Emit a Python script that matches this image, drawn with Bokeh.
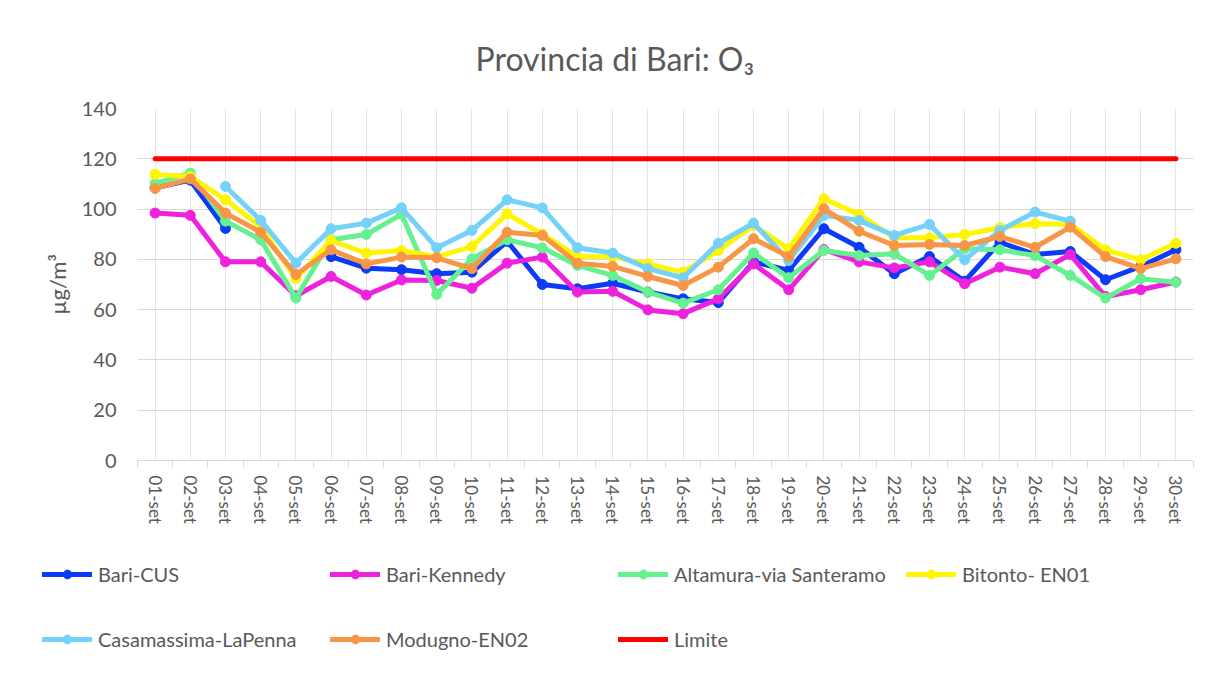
import math
from bokeh.plotting import figure
from bokeh.models import (Range1d, FixedTicker, SingleIntervalTicker, LinearAxis,
                          CategoricalAxis, Legend, LegendItem, CustomJSTickFormatter)
from bokeh.embed import file_html
from bokeh.resources import INLINE

nan = float("nan")

days = ["01-set", "02-set", "03-set", "04-set", "05-set", "06-set", "07-set", "08-set",
        "09-set", "10-set", "11-set", "12-set", "13-set", "14-set", "15-set", "16-set",
        "17-set", "18-set", "19-set", "20-set", "21-set", "22-set", "23-set", "24-set",
        "25-set", "26-set", "27-set", "28-set", "29-set", "30-set"]

bari_cus = [108.5, 111.5, 92.3, nan, nan, 81.1, 76.5, 75.9, 74.3, 74.9,
            87.2, 70.0, 68.3, 70.5, 67.0, 64.3, 62.8, 79.0, 75.6, 92.2,
            84.8, 74.3, 81.1, 71.3, 86.8, 81.9, 83.1, 71.9, 77.2, 83.8]
bari_kennedy = [98.4, 97.5, 79.0, 79.0, 65.5, 73.2, 65.8, 71.8, 71.6, 68.5,
                78.5, 80.9, 67.0, 67.3, 59.9, 58.4, 64.3, 78.2, 67.9, 83.9,
                79.0, 76.6, 79.0, 70.3, 76.9, 74.3, 81.9, 65.2, 67.9, 71.0]
altamura = [110.2, 114.3, 95.2, 87.8, 64.6, 87.8, 89.9, 97.9, 66.0, 80.2,
            87.8, 84.6, 77.6, 73.6, 67.0, 62.6, 67.9, 82.5, 72.7, 83.5,
            81.5, 82.2, 73.6, 84.2, 83.8, 81.5, 73.6, 64.6, 72.3, 70.9]
bitonto = [113.8, 113.0, 103.7, 93.0, 72.3, 87.5, 82.5, 83.5, 81.0, 85.1,
           98.1, 90.0, 81.1, 81.0, 78.2, 74.9, 83.5, 93.5, 84.2, 104.1,
           97.9, 88.6, 88.6, 89.9, 92.6, 94.2, 94.0, 83.8, 79.8, 86.4]
casamassima = [nan, nan, 109.0, 95.5, 78.5, 92.2, 94.4, 100.5, 84.6, 91.5,
               103.7, 100.5, 84.6, 82.5, 76.3, 72.7, 86.4, 94.4, 79.5, 97.5,
               95.5, 89.5, 93.9, 79.8, 91.5, 98.8, 95.2, nan, nan, nan]
modugno = [108.2, 112.0, 98.4, 90.8, 74.0, 83.8, 78.2, 80.9, 80.6, 76.3,
           90.8, 89.5, 78.5, 77.2, 73.2, 69.6, 76.9, 88.2, 81.1, 100.1,
           91.2, 85.5, 85.9, 85.5, 89.1, 84.8, 92.8, 81.1, 76.3, 80.2]
limite = [120, 120, 120, 120, 120, 120, 120, 120, 120, 120,
          120, 120, 120, 120, 120, 120, 120, 120, 120, 120,
          120, 120, 120, 120, 120, 120, 120, 120, 120, 120]

series_names = ["Bari-CUS", "Bari-Kennedy", "Altamura-via Santeramo", "Bitonto- EN01",
                "Casamassima-LaPenna", "Modugno-EN02", "Limite"]
series_values = [bari_cus, bari_kennedy, altamura, bitonto, casamassima, modugno, limite]
series_colors = ["#0B3BF6", "#EE22DD", "#66F090", "#FFF500", "#74D2F8", "#F79646", "#FF0000"]
series_markers = [True, True, True, True, True, True, False]

FONT = "Lato"
TXT = "#595959"
GRID = "#d9d9d9"

p = figure(width=1200, height=545, x_range=days, y_range=Range1d(0, 140),
           output_backend="svg", toolbar_location=None, x_axis_location=None,
           min_border_left=137, min_border_right=7, min_border_top=108,
           min_border_bottom=85)
p.outline_line_color = None
p.background_fill_color = "white"
p.border_fill_color = "white"

p.title.text = "Provincia di Bari: O\u2083"
p.title.text_font = FONT
p.title.text_font_size = "32px"
p.title.text_font_style = "normal"
p.title.text_color = TXT
p.title.align = "left"
p.title.offset = 338
p.title.standoff = 62

# y axis
yax = p.yaxis[0]
yax.ticker = SingleIntervalTicker(interval=20)
yax.axis_line_color = None
yax.major_tick_line_color = None
yax.minor_tick_line_color = None
yax.major_tick_out = 0
yax.major_tick_in = 0
yax.major_label_standoff = 17
yax.major_label_text_font = FONT
yax.major_label_text_font_size = "20px"
yax.major_label_text_color = TXT
yax.axis_label = "\u00b5g/m\u00b3"
yax.axis_label_text_font = FONT
yax.axis_label_text_font_size = "22px"
yax.axis_label_text_font_style = "normal"
yax.axis_label_text_color = TXT
yax.axis_label_standoff = 8
p.ygrid.grid_line_color = GRID
p.ygrid.grid_line_width = 1

# x axis: tick marks on category boundaries (synthetic coordinates), then category labels
tick_axis = LinearAxis(ticker=FixedTicker(ticks=list(range(len(days) + 1))),
                       formatter=CustomJSTickFormatter(code="return ''"),
                       axis_line_color=GRID, axis_line_width=1,
                       major_tick_line_color=GRID, major_tick_in=0, major_tick_out=7,
                       minor_tick_line_color=None, major_label_standoff=0)
p.add_layout(tick_axis, "below")
cat_axis = CategoricalAxis(axis_line_color=None, major_tick_line_color=None,
                           major_tick_in=0, major_tick_out=0,
                           major_label_orientation="vertical", major_label_standoff=8,
                           major_label_text_font=FONT, major_label_text_font_size="17px",
                           major_label_text_color=TXT)
p.add_layout(cat_axis, "below")

for vals, col, mk in zip(series_values, series_colors, series_markers):
    p.line(days, vals, line_color=col, line_width=5, line_join="round", line_cap="round")
    if mk:
        p.scatter(days, vals, size=10, fill_color=col, line_color=col)

# legend strip: a second root figure whose frame is its whole area; the series are
# drawn there too but far outside its y range, so only the legend shows
lg = figure(width=1200, height=135, x_range=days, y_range=Range1d(1000, 1001),
            output_backend="svg", toolbar_location=None, x_axis_location=None,
            y_axis_location=None, min_border=0, min_border_left=0, min_border_right=0,
            min_border_top=0, min_border_bottom=0)
lg.outline_line_color = None
lg.xgrid.visible = False
lg.ygrid.visible = False

items = []
for name, vals, col, mk in zip(series_names, series_values, series_colors, series_markers):
    rs = [lg.line(days, vals, line_color=col, line_width=5, line_cap="round")]
    if mk:
        rs.append(lg.scatter(days, vals, fill_color=col, line_color=col))
    items.append(LegendItem(label=name, renderers=rs))

def make_legend(its, loc):
    return Legend(items=its, location=loc, orientation="horizontal",
                  glyph_width=50, glyph_height=22, label_height=22,
                  label_standoff=6, label_width=232,
                  spacing=0, padding=0, margin=0, border_line_alpha=0,
                  background_fill_alpha=0, label_text_font=FONT,
                  label_text_font_size="20px", label_text_color=TXT)

lg.add_layout(make_legend(items[:4], (42, 94)), "center")
lg.add_layout(make_legend(items[4:], (42, 29)), "center")

open("out.html", "w").write(file_html([p, lg], INLINE))
